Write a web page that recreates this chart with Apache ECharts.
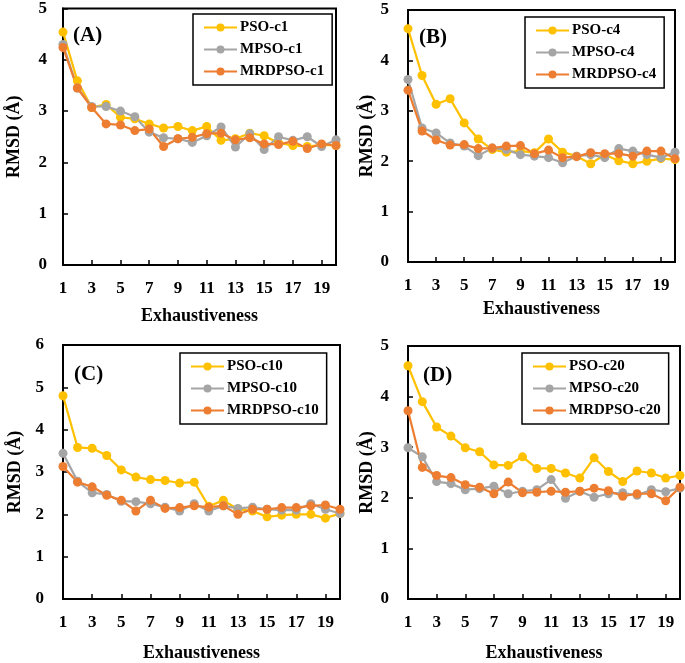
<!DOCTYPE html>
<html><head><meta charset="utf-8">
<script src="https://cdn.jsdelivr.net/npm/echarts@6/dist/echarts.min.js"></script>
<style>html,body{margin:0;padding:0;background:#fff}#c{width:685px;height:663px}</style>
</head><body><div id="c"></div>
<script>
const categories = ['1','2','3','4','5','6','7','8','9','10','11','12','13','14','15','16','17','18','19','20'];

const psoC1    = [4.54,3.59,3.07,3.13,2.88,2.85,2.75,2.67,2.70,2.62,2.70,2.43,2.46,2.57,2.52,2.38,2.33,2.31,2.34,2.33];
const mpsoC1   = [4.30,3.45,3.09,3.09,3.00,2.89,2.59,2.48,2.46,2.39,2.52,2.69,2.30,2.56,2.25,2.50,2.43,2.50,2.31,2.44];
const mrdpsoC1 = [4.24,3.45,3.07,2.75,2.73,2.62,2.65,2.31,2.46,2.49,2.56,2.57,2.44,2.48,2.36,2.35,2.41,2.27,2.36,2.33];

const psoC4    = [4.63,3.70,3.13,3.24,2.76,2.44,2.23,2.18,2.20,2.17,2.44,2.18,2.10,1.95,2.13,2.01,1.95,2.00,2.05,2.03];
const mpsoC4   = [3.62,2.66,2.56,2.36,2.30,2.11,2.26,2.23,2.13,2.10,2.07,1.97,2.10,2.13,2.07,2.25,2.20,2.13,2.07,2.18];
const mrdpsoC4 = [3.41,2.60,2.42,2.32,2.33,2.25,2.26,2.30,2.31,2.15,2.22,2.07,2.09,2.17,2.15,2.15,2.10,2.20,2.20,2.05];

const psoC10    = [4.80,3.58,3.56,3.39,3.05,2.88,2.82,2.80,2.74,2.76,2.19,2.33,2.12,2.08,1.94,1.98,2.00,2.00,1.91,2.02];
const mpsoC10   = [3.44,2.78,2.51,2.47,2.31,2.30,2.25,2.17,2.08,2.25,2.08,2.20,2.14,2.17,2.12,2.10,2.10,2.25,2.12,2.02];
const mrdpsoC10 = [3.13,2.76,2.65,2.45,2.33,2.08,2.33,2.14,2.16,2.20,2.17,2.20,2.00,2.12,2.12,2.16,2.16,2.20,2.22,2.12];

const psoC20    = [4.61,3.90,3.40,3.22,2.99,2.91,2.65,2.64,2.81,2.58,2.58,2.49,2.39,2.79,2.52,2.32,2.53,2.49,2.39,2.44];
const mpsoC20   = [2.99,2.81,2.32,2.28,2.16,2.18,2.23,2.08,2.13,2.16,2.36,1.99,2.13,2.01,2.08,2.10,2.05,2.16,2.12,2.19];
const mrdpsoC20 = [3.72,2.60,2.44,2.40,2.26,2.21,2.08,2.31,2.10,2.11,2.13,2.11,2.13,2.19,2.14,2.03,2.08,2.08,1.94,2.21];

const yTitle = 'RMSD (Å)';
const xTitle = 'Exhaustiveness';

const COLORS = ['#FFC000', '#A5A5A5', '#ED7D31'];
const FONT = "'Liberation Serif','Times New Roman',serif";

const panels = [
  {label:'(A)', suffix:'c1',  data:[psoC1,mpsoC1,mrdpsoC1],    ymax:5, grid:{left:63,top:7,width:273,height:258},  legend:{left:193,top:14}, lab:{left:68,top:20}, xGap:42, yGap:40, yMargin:16},
  {label:'(B)', suffix:'c4',  data:[psoC4,mpsoC4,mrdpsoC4],    ymax:5, grid:{left:408,top:10,width:267,height:252}, legend:{left:525,top:17}, lab:{left:414,top:22}, xGap:38, yGap:27, yMargin:19},
  {label:'(C)', suffix:'c10', data:[psoC10,mpsoC10,mrdpsoC10], ymax:6, grid:{left:63,top:345,width:277,height:258}, legend:{left:180,top:353}, lab:{left:69,top:359}, xGap:45, yGap:39, yMargin:19},
  {label:'(D)', suffix:'c20', data:[psoC20,mpsoC20,mrdpsoC20], ymax:5, grid:{left:408,top:346,width:272,height:257}, legend:{left:522,top:353}, lab:{left:418,top:360}, xGap:45, yGap:25, yMargin:19}
];

const option = {
  animation:false,
  backgroundColor:'#fff',
  title:[], legend:[], grid:[], xAxis:[], yAxis:[], series:[]
};

panels.forEach((p, i) => {
  option.grid.push(Object.assign({show:true, borderColor:'#000', borderWidth:2, backgroundColor:'transparent', containLabel:false}, p.grid));
  option.title.push({text:p.label, left:p.lab.left, top:p.lab.top, textStyle:{fontFamily:FONT, fontWeight:'bold', fontSize:21, color:'#000'}});
  const names = ['PSO-'+p.suffix, 'MPSO-'+p.suffix, 'MRDPSO-'+p.suffix];
  option.legend.push({
    data:names, orient:'vertical', left:p.legend.left, top:p.legend.top,
    borderColor:'#000', borderWidth:1.5, padding:[6,8,6,10], itemGap:7,
    itemWidth:33, itemHeight:10,
    textStyle:{fontFamily:FONT, fontWeight:'bold', fontSize:15, color:'#000', padding:[0,0,0,-2]}
  });
  option.xAxis.push({
    type:'category', gridIndex:i, data:categories, boundaryGap:false,
    name:xTitle, nameLocation:'middle', nameGap:p.xGap,
    nameTextStyle:{fontFamily:FONT, fontWeight:'bold', fontSize:18, color:'#000'},
    axisLine:{lineStyle:{color:'#000', width:2}},
    axisTick:{inside:true, interval:1, length:5, lineStyle:{color:'#000', width:1.5}},
    axisLabel:{interval:1, margin:15, fontFamily:FONT, fontWeight:'bold', fontSize:17, color:'#000'},
    splitLine:{show:false}
  });
  option.yAxis.push({
    type:'value', gridIndex:i, min:0, max:p.ymax, interval:1,
    name:yTitle, nameLocation:'middle', nameGap:p.yGap,
    nameTextStyle:{fontFamily:FONT, fontWeight:'bold', fontSize:18, color:'#000'},
    axisLine:{show:true, lineStyle:{color:'#000', width:2}},
    axisTick:{show:true, inside:true, length:5, lineStyle:{color:'#000', width:1.5}},
    axisLabel:{margin:p.yMargin, fontFamily:FONT, fontWeight:'bold', fontSize:17, color:'#000'},
    splitLine:{show:false}
  });
  p.data.forEach((arr, k) => {
    option.series.push({
      type:'line', name:names[k], xAxisIndex:i, yAxisIndex:i, data:arr,
      symbol:'circle', symbolSize:9, showAllSymbol:true, color:COLORS[k],
      lineStyle:{width:2.2, color:COLORS[k]}, itemStyle:{color:COLORS[k]}
    });
  });
});

const chart = echarts.init(document.getElementById('c'), null, {renderer:'canvas'});
chart.setOption(option);
</script></body></html>
